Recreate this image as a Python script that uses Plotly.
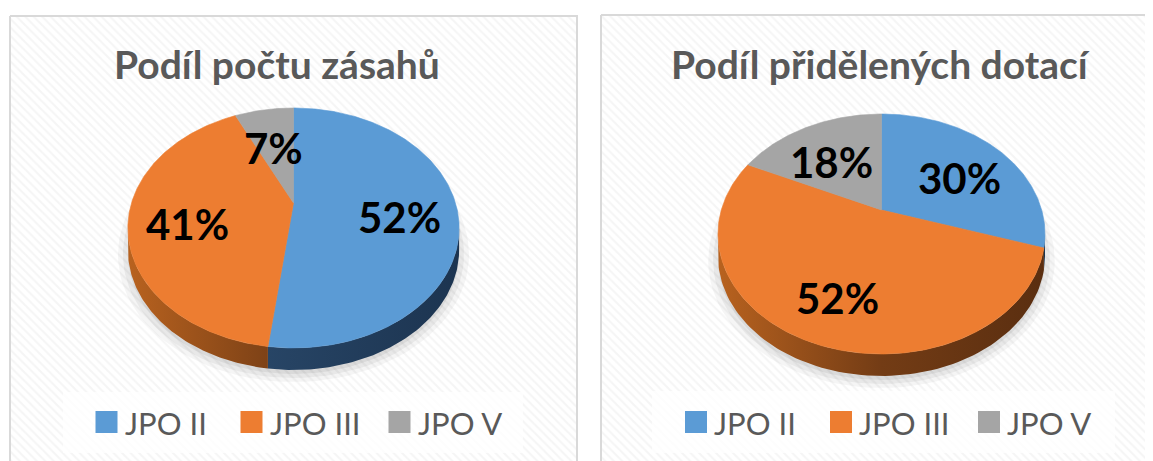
import numpy as np
import plotly.graph_objects as go

# ---------------- data ----------------
categories = ["JPO II", "JPO III", "JPO V"]
zasahy_pct = [52, 41, 7]
dotace_pct = [30, 52, 18]
chart_titles = ["Podíl počtu zásahů", "Podíl přidělených dotací"]

# ---------------- styles ----------------
TOP_COLORS = ["#5B9BD5", "#ED7D31", "#A5A5A5"]
SIDE_SCALES = [
    [[0, "#2f5175"], [1, "#1c3450"]],
    [[0, "#b8621f"], [0.5, "#733c15"], [1, "#5a2e10"]],
    [[0, "#808080"], [1, "#5a5a5a"]],
]
TEXT_GRAY = "#595959"
FONT = "Lato"
W, H = 1153, 461
PAGE_OFF = 8  # default body margin of the html page

# panel / pie geometry (page pixel layout)
panels = [
    dict(x0=10, x1=577, y0=16, y1=480, cx=293.5, apex=203, A=162, B=114.8, k=0.208, D=22,
         title_x=276.5, title_y=64, leg_box=(63, 523, 392, 453), leg_cx=293.5, leg_y=422),
    dict(x0=601, x1=1180, y0=15, y1=480, cx=881.5, apex=210, A=160.2, B=115.2, k=0.2, D=22,
         title_x=880.5, title_y=64, leg_box=(652, 1115, 391, 453), leg_cx=883, leg_y=422),
]
LEG_OFFSETS = [-187, -42, 106]
LABEL_R = 0.65
LABEL_DY = 9


def proj(p, theta_deg, r=1.0):
    t = np.radians(theta_deg)
    u = r * np.sin(t)
    v = -r * np.cos(t)
    w = 1 - p["k"] * v
    return p["cx"] + p["A"] * u / w, p["apex"] + p["B"] * v / w


fig = go.Figure()
annotations = []


def rect(x0, x1, y0, y1):
    return [x0, x1, x1, x0, x0], [y0, y0, y1, y1, y0]


for p, values, title in zip(panels, [zasahy_pct, dotace_pct], chart_titles):
    # panel background with diagonal hatch
    xs, ys = rect(p["x0"], p["x1"], p["y0"], p["y1"])
    fig.add_trace(go.Scatter(
        x=xs, y=ys, mode="lines", fill="toself",
        fillpattern=dict(shape="\\", fgcolor="#ececec", bgcolor="#ffffff", size=6, solidity=0.35),
        line=dict(color="#d9d9d9", width=2), hoverinfo="skip"))

    # soft shadow under the pie
    ang = np.linspace(0, 360, 121)
    for s, a in [(1.06, 0.04), (1.03, 0.05), (1.0, 0.06)]:
        ex, ey = proj(p, ang, 1.0)
        ex = p["cx"] + (ex - p["cx"]) * s
        ey = ey + p["D"] + 4
        ey = ey.mean() + (ey - ey.mean()) * s
        fig.add_trace(go.Scatter(x=ex, y=ey, mode="lines", fill="toself",
                                 fillcolor=f"rgba(0,0,0,{a})", line=dict(width=0),
                                 hoverinfo="skip"))

    total = float(sum(values))
    bounds = np.concatenate([[0], np.cumsum(values) / total * 360.0])
    th_r = np.degrees(np.arccos(-p["k"]))
    th_l = 360 - th_r
    xmin = p["cx"] - p["A"] / np.sqrt(1 - p["k"] ** 2)
    xmax = p["cx"] + p["A"] / np.sqrt(1 - p["k"] ** 2)

    # sides (3D wall)
    for i, (t1, t2) in enumerate(zip(bounds[:-1], bounds[1:])):
        a, b = max(t1, th_r), min(t2, th_l)
        if a >= b:
            continue
        arc = np.linspace(a, b, 90)
        tx, ty = proj(p, arc)
        sx = np.concatenate([tx, tx[::-1]])
        sy = np.concatenate([ty, ty[::-1] + p["D"]])
        fig.add_trace(go.Scatter(
            x=sx, y=sy, mode="lines", fill="toself",
            fillgradient=dict(type="horizontal", colorscale=SIDE_SCALES[i],
                              start=xmin, stop=xmax),
            line=dict(width=0), hoverinfo="skip"))

    # top faces
    for i, (t1, t2) in enumerate(zip(bounds[:-1], bounds[1:])):
        arc = np.linspace(t1, t2, max(8, int((t2 - t1) * 1.5)))
        tx, ty = proj(p, arc)
        fx = np.concatenate([[p["cx"]], tx, [p["cx"]]])
        fy = np.concatenate([[p["apex"]], ty, [p["apex"]]])
        fig.add_trace(go.Scatter(
            x=fx, y=fy, mode="lines", fill="toself", fillcolor=TOP_COLORS[i],
            line=dict(width=0.6, color=TOP_COLORS[i]), hoverinfo="skip"))

    # data labels
    for i, (t1, t2) in enumerate(zip(bounds[:-1], bounds[1:])):
        lx, ly = proj(p, (t1 + t2) / 2, LABEL_R)
        annotations.append(dict(
            x=float(lx), y=float(ly) + LABEL_DY, xref="x", yref="y",
            text=f"<b>{values[i]:.0f}%</b>", showarrow=False,
            font=dict(family=FONT, size=42, color="#000000")))

    # title
    annotations.append(dict(
        x=p["title_x"], y=p["title_y"], xref="x", yref="y", text=f"<b>{title}</b>",
        showarrow=False, font=dict(family=FONT, size=39, color=TEXT_GRAY)))

    # legend box
    lx0, lx1, ly0, ly1 = p["leg_box"]
    xs, ys = rect(lx0, lx1, ly0, ly1)
    fig.add_trace(go.Scatter(x=xs, y=ys, mode="lines", fill="toself",
                             fillcolor="rgba(255,255,255,0.75)", line=dict(width=0),
                             hoverinfo="skip"))
    for i, cat in enumerate(categories):
        mx = p["leg_cx"] + LEG_OFFSETS[i]
        fig.add_trace(go.Scatter(x=[mx], y=[p["leg_y"]], mode="markers",
                                 marker=dict(symbol="square", size=22, color=TOP_COLORS[i],
                                             line=dict(width=0)),
                                 hoverinfo="skip"))
        annotations.append(dict(
            x=mx + 16, y=p["leg_y"] + 1, xref="x", yref="y", text=cat, showarrow=False,
            xanchor="left", yanchor="middle",
            font=dict(family=FONT, size=31, color=TEXT_GRAY)))

fig.update_layout(
    width=W, height=H, autosize=False,
    margin=dict(l=0, r=0, t=0, b=0),
    paper_bgcolor="white", plot_bgcolor="white",
    showlegend=False, hovermode=False,
    xaxis=dict(range=[PAGE_OFF, W + PAGE_OFF], visible=False, fixedrange=True),
    yaxis=dict(range=[H + PAGE_OFF, PAGE_OFF], visible=False, fixedrange=True),
    annotations=annotations,
)

fig.write_html("out.html", config={"displayModeBar": False})
